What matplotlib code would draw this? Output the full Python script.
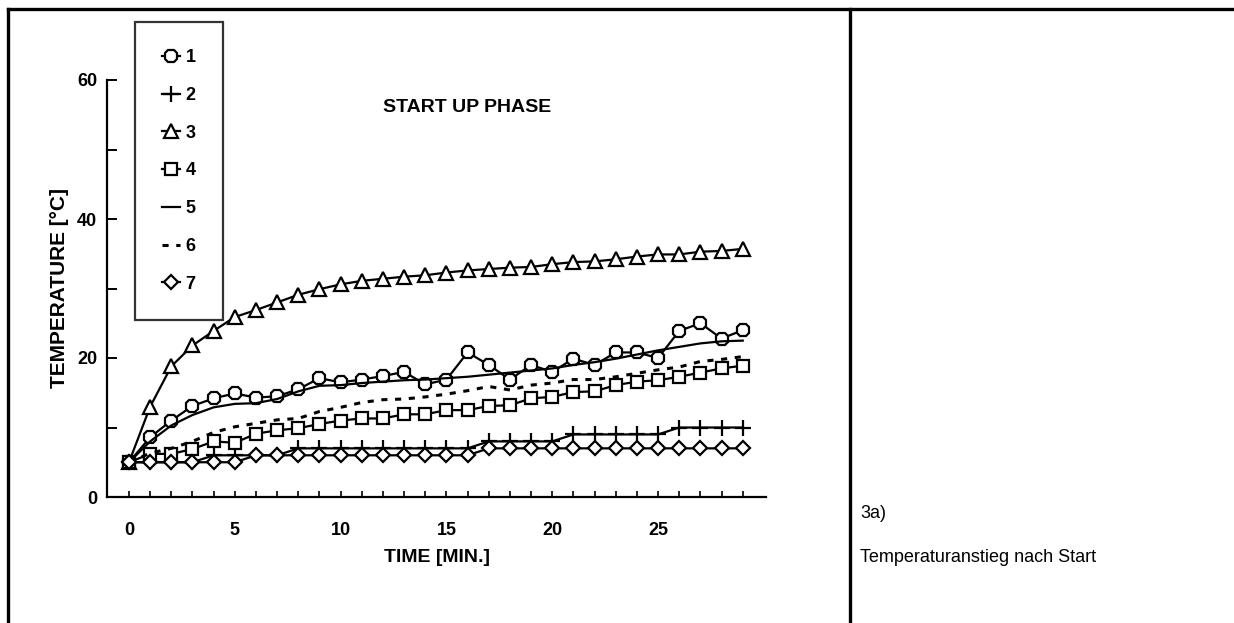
import numpy as np
import matplotlib
matplotlib.use("Agg")
import matplotlib.pyplot as plt
from matplotlib.lines import Line2D

plt.rcParams['font.family'] = ['Liberation Sans', 'DejaVu Sans']

# time axis (minutes)
time_min = list(range(30))

# series
s1 = [5, 8.6, 11.0, 13.1, 14.2, 14.9, 14.3, 14.5, 15.5, 17.1, 16.5, 16.9, 17.4, 18.0, 16.2,
      16.9, 20.8, 19.0, 16.9, 19.0, 18.0, 19.9, 19.0, 20.8, 20.8, 20.0, 23.9, 25.0, 22.8, 24.0]
s2 = [5, 5, 5, 5, 6, 6, 6, 6, 7, 7, 7, 7, 7, 7, 7, 7, 7, 8, 8, 8, 8, 9, 9, 9, 9, 9, 10, 10, 10, 10]
s3 = [5, 13.0, 18.8, 21.8, 23.9, 25.9, 26.9, 28.0, 29.1, 29.9, 30.6, 31.1, 31.4, 31.7, 31.9,
      32.3, 32.6, 32.8, 33.0, 33.1, 33.5, 33.8, 33.9, 34.2, 34.6, 34.9, 34.9, 35.3, 35.4, 35.7]
s4 = [5, 6.2, 6.2, 6.9, 8.0, 7.8, 9.1, 9.6, 9.9, 10.5, 11.0, 11.3, 11.3, 11.9, 11.9,
      12.5, 12.5, 13.1, 13.2, 14.2, 14.4, 15.1, 15.2, 16.1, 16.6, 16.8, 17.3, 17.9, 18.5, 18.9]
s5 = [5, 8.0, 10.3, 11.8, 12.9, 13.4, 13.5, 14.1, 15.2, 16.0, 16.1, 16.4, 16.6, 16.8, 16.9,
      17.1, 17.3, 17.6, 17.9, 18.2, 18.5, 19.0, 19.4, 19.9, 20.5, 21.1, 21.6, 22.1, 22.4, 22.5]
s6 = [5, 6.3, 7.0, 8.0, 9.3, 10.1, 10.6, 11.1, 11.3, 12.3, 12.9, 13.6, 14.0, 14.1, 14.4,
      14.8, 15.3, 15.9, 15.4, 16.1, 16.4, 16.9, 16.9, 17.3, 17.8, 18.3, 18.7, 19.5, 19.8, 20.2]
s7 = [5, 5, 5, 5, 5, 5, 6, 6, 6, 6, 6, 6, 6, 6, 6, 6, 6, 7, 7, 7, 7, 7, 7, 7, 7, 7, 7, 7, 7, 7]

labels = ['1', '2', '3', '4', '5', '6', '7']
y_ticklabels = ['0', '', '20', '', '40', '', '60']

fig = plt.figure(figsize=(12.34, 6.23), dpi=100)
ax = fig.add_axes([107 / 1234, 1 - 497 / 623, (766 - 107) / 1234, (497 - 80) / 623])

lw = 1.6
mew = 1.6
ms = 10
h1, = ax.plot(time_min, s1, color='k', lw=lw, marker='8', ms=ms, mfc='white', mec='k', mew=mew)
h2, = ax.plot(time_min, s2, color='k', lw=lw, marker='+', ms=12, mec='k', mew=mew)
h3, = ax.plot(time_min, s3, color='k', lw=lw, marker='^', ms=ms, mfc='white', mec='k', mew=mew)
h4, = ax.plot(time_min, s4, color='k', lw=lw, marker='s', ms=ms - 1, mfc='white', mec='k', mew=mew)
h5, = ax.plot(time_min, s5, color='k', lw=lw)
h6, = ax.plot(time_min, s6, color='k', lw=2.2, linestyle=(0, (2, 2.5)))
h7, = ax.plot(time_min, s7, color='k', lw=lw, marker='D', ms=7.5, mfc='white', mec='k', mew=mew)

ax.set_xlim(-1.04, 30.1)
ax.set_ylim(0, 60)
ax.spines['top'].set_visible(False)
ax.spines['right'].set_visible(False)
ax.spines['left'].set_linewidth(1.6)
ax.spines['bottom'].set_linewidth(1.6)

ax.set_xticks(range(30))
ax.set_xticklabels([str(t) if t % 5 == 0 else '' for t in range(30)])
ax.set_yticks(range(0, 61, 10))
ax.set_yticklabels(y_ticklabels)
ax.tick_params(axis='x', direction='in', length=4.5, width=1.2, pad=18, labelsize=13)
ax.tick_params(axis='y', direction='in', length=7.5, width=1.4, pad=7, labelsize=13)
for t in ax.get_xticklabels() + ax.get_yticklabels():
    t.set_fontweight('bold')

ax.set_xlabel('TIME [MIN.]', fontsize=14, fontweight='bold', labelpad=7)
ax.set_ylabel('TEMPERATURE [°C]', fontsize=15, fontweight='bold', labelpad=6)

ax.text(16, 56, 'START UP PHASE', fontsize=14, fontweight='bold', ha='center', va='center')

leg = fig.legend([h1, h2, h3, h4, h5, h6, h7], labels,
                 loc='upper left', bbox_to_anchor=(135 / 1234, 1 - 22 / 623),
                 prop={'weight': 'bold', 'size': 13}, borderaxespad=0,
                 handlelength=1.0, handletextpad=0.3, labelspacing=1.15,
                 borderpad=1.5, fancybox=False, frameon=True)
leg.get_frame().set_edgecolor('k')
leg.get_frame().set_linewidth(1.6)

# page frame lines
frame = dict(color='k', lw=2.4, transform=fig.transFigure, solid_capstyle='projecting')
fig.add_artist(Line2D([8 / 1234, 1], [1 - 9 / 623, 1 - 9 / 623], **frame))
fig.add_artist(Line2D([8 / 1234, 8 / 1234], [0, 1 - 9 / 623], **frame))
fig.add_artist(Line2D([850 / 1234, 850 / 1234], [0, 1 - 9 / 623], **frame))

fig.text(860 / 1234, 1 - 513 / 623, '3a)', fontsize=13, va='center')
fig.text(860 / 1234, 1 - 558 / 623, 'Temperaturanstieg nach Start', fontsize=13, va='center')

fig.savefig('out.png', dpi=100)
